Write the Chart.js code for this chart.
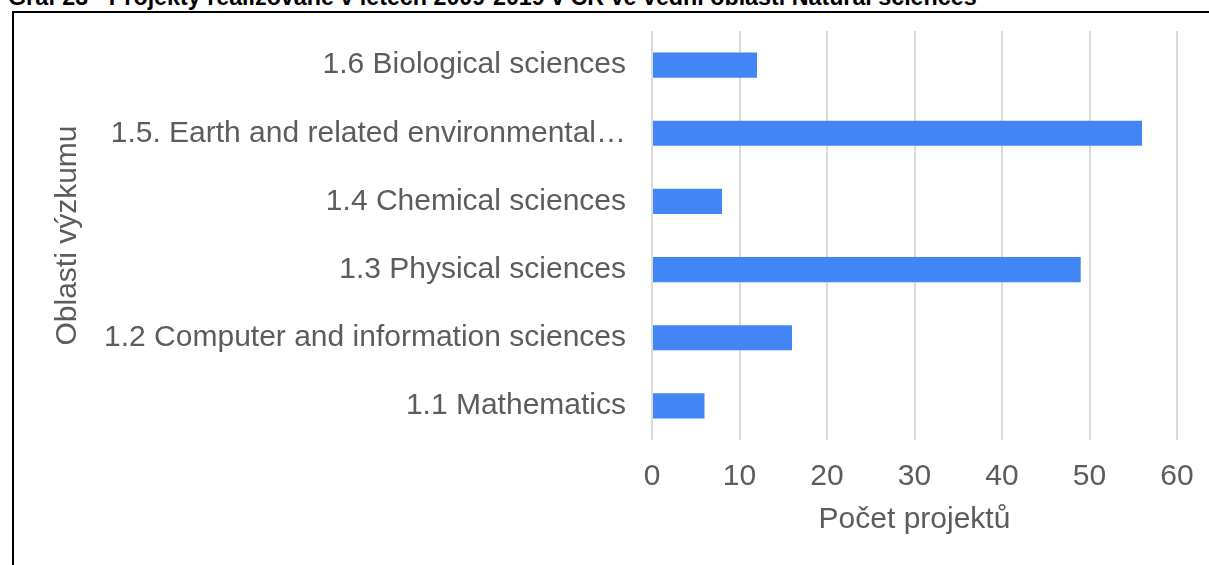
<!DOCTYPE html>
<html>
<head>
<meta charset="utf-8">
<script src="https://cdn.jsdelivr.net/npm/chart.js@4/dist/chart.umd.min.js"></script>
<style>
  html, body { margin: 0; padding: 0; background: #fff; overflow: hidden; }
  #page { position: relative; width: 1209px; height: 565px; overflow: hidden; }
  #title {
    position: absolute; left: 8px; top: -12px; white-space: nowrap;
    font-family: "Liberation Sans", Arial, sans-serif; font-weight: bold;
    font-size: 19px; line-height: 19px; color: #000;
  }
  #frame {
    position: absolute; left: 12px; top: 11px; right: -20px; bottom: -20px;
    border: 2px solid #000;
  }
  #wrap { position: absolute; left: 0; top: 0; width: 1209px; height: 565px; }
</style>
</head>
<body>
<div id="page">
  <div id="title">Graf 23 - Projekty realizované v letech 2009-2019 v ČR ve vědní oblasti Natural sciences</div>
  <div id="frame"></div>
  <div id="wrap"><canvas id="chart" width="1209" height="565"></canvas></div>
</div>
<script>
// data
var oblasti = [
  '1.6 Biological sciences',
  '1.5. Earth and related environmental sciences',
  '1.4 Chemical sciences',
  '1.3 Physical sciences',
  '1.2 Computer and information sciences',
  '1.1 Mathematics'
];
var pocty = [12, 56, 8, 49, 16, 6];
var xTicks = [0, 10, 20, 30, 40, 50, 60];

var modra = '#4285f4';
var seda = '#5c5c5c';
var mrizka = '#dadada';
var pismo = '"Liberation Sans", Arial, sans-serif';

// fit the clipped heading to its width in the picture
var t = document.getElementById('title');
var w = t.getBoundingClientRect().width;
t.style.fontSize = (19 * 969 / w) + 'px';

var ctx = document.getElementById('chart').getContext('2d');
var myChart = new Chart(ctx, {
  type: 'bar',
  data: {
    labels: oblasti,
    datasets: [{
      label: 'Počet projektů',
      data: pocty,
      backgroundColor: modra,
      borderWidth: 0,
      barPercentage: 0.37,
      categoryPercentage: 1
    }]
  },
  options: {
    indexAxis: 'y',
    responsive: false,
    animation: false,
    layout: { padding: { left: 0, top: 31, right: 32, bottom: 0 } },
    plugins: {
      legend: { display: false },
      tooltip: { enabled: false }
    },
    scales: {
      x: {
        min: 0,
        max: 60,
        afterBuildTicks: function (scale) {
          scale.ticks = xTicks.map(function (v) { return { value: v }; });
        },
        afterFit: function (scale) {
          scale.height = 125;
          scale.paddingLeft = 0;
          scale.paddingRight = 0;
        },
        border: { display: false },
        grid: { color: mrizka, lineWidth: 2, drawTicks: false },
        ticks: {
          color: seda,
          padding: 19,
          font: { family: pismo, size: 30 }
        },
        title: {
          display: true,
          text: 'Počet projektů',
          color: seda,
          padding: { top: 0, bottom: 27 },
          font: { family: pismo, size: 30 }
        }
      },
      y: {
        afterFit: function (scale) {
          scale.width = 652;
          scale.paddingTop = 0;
          scale.paddingBottom = 0;
        },
        border: { display: false },
        grid: { display: false, drawTicks: false },
        ticks: {
          color: seda,
          padding: 26,
          font: { family: pismo, size: 30 },
          callback: function (value) {
            var s = this.getLabelForValue(value);
            if (s.length > 40) {
              s = s.substring(0, 36) + '…';
            }
            return s;
          }
        },
        title: {
          display: true,
          text: 'Oblasti výzkumu',
          color: seda,
          padding: { top: 50, bottom: 0 },
          font: { family: pismo, size: 30 }
        }
      }
    }
  }
});
</script>
</body>
</html>
